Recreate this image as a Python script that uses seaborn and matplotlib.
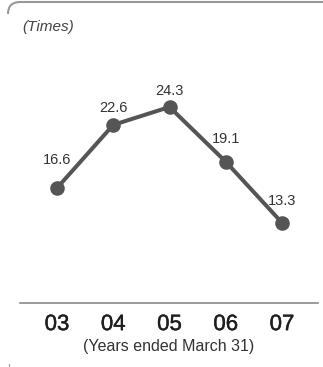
import matplotlib
matplotlib.use("Agg")
import matplotlib.pyplot as plt
import matplotlib.patheffects as pe
import seaborn as sns
import pandas as pd
from matplotlib.path import Path
from matplotlib.patches import PathPatch

# Price-earnings ratio by fiscal year
years = ["03", "04", "05", "06", "07"]
ratios = [16.6, 22.6, 24.3, 19.1, 13.3]
label_offsets_px = [28, 17, 16, 23, 22]

sns.set_theme(style="white")
plt.rcParams["font.family"] = ["Liberation Sans", "DejaVu Sans"]

W, H = 323, 367
fig = plt.figure(figsize=(W / 100, H / 100), dpi=100)
fig.patch.set_facecolor("white")

def fx(px):
    return px / W

def fy(py):
    return 1 - py / H

ax = fig.add_axes([fx(20), fy(303), fx(318) - fx(20), fy(40) - fy(303)])

df = pd.DataFrame({"idx": range(len(years)), "ratio": ratios})
line_color = "#555555"
sns.lineplot(data=df, x="idx", y="ratio", ax=ax, color=line_color, lw=2.9,
             marker="o", markersize=10.5, markeredgewidth=0,
             markerfacecolor=line_color)

for i, (v, off) in enumerate(zip(ratios, label_offsets_px)):
    ax.annotate(f"{v:.1f}", (i, v), xytext=(0, off * 0.72),
                textcoords="offset points", ha="center", va="center",
                fontsize=10.5, color="#333333")

ax.set_xlim(-0.658, 4.64)
ax.set_ylim(5.67, 30.67)
ax.set_xticks(range(len(years)))
ax.set_xticklabels(years, fontsize=16, color="#1e1e1e")
for t in ax.get_xticklabels():
    t.set_path_effects([pe.withStroke(linewidth=0.3, foreground="#1e1e1e")])
ax.tick_params(axis="x", length=0, pad=8)
ax.set_yticks([])
ax.set_xlabel("")
ax.set_ylabel("")
for s in ["top", "left", "right"]:
    ax.spines[s].set_visible(False)
ax.spines["bottom"].set_color("#808080")
ax.spines["bottom"].set_linewidth(1.1)

fig.text(fx(169), fy(347), "(Years ended March 31)", ha="center", va="center",
         fontsize=11.5, color="#333333")
fig.text(fx(22), fy(27), "(Times)", ha="left", va="center",
         fontsize=11, style="italic", color="#444444")

# Rounded frame along the top edge
verts = [(fx(8), fy(14)), (fx(8), fy(2)), (fx(20), fy(2)), (fx(323), fy(2))]
codes = [Path.MOVETO, Path.CURVE3, Path.CURVE3, Path.LINETO]
fig.patches.append(PathPatch(Path(verts, codes), transform=fig.transFigure,
                             fill=False, edgecolor="#999999", lw=1.5))
fig.lines.append(plt.Line2D([fx(9), fx(9)], [fy(364), fy(367)],
                            transform=fig.transFigure, color="#999999", lw=0.8))

fig.savefig("out.png", dpi=100, facecolor="white")
